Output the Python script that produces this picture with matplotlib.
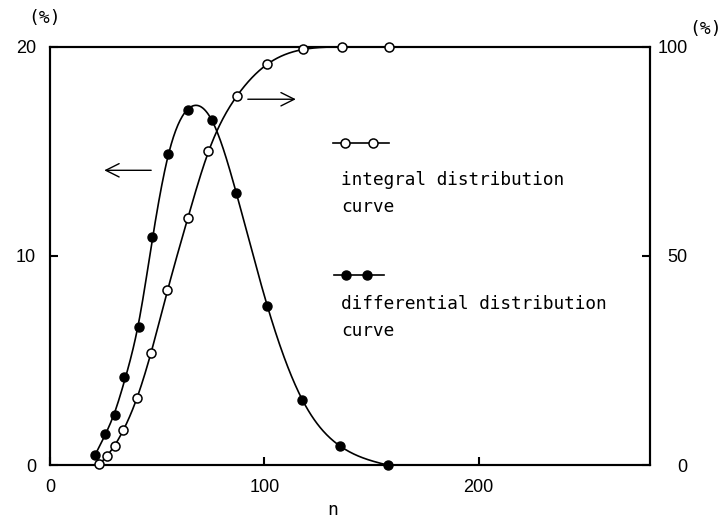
import numpy as np
import matplotlib
matplotlib.use('Agg')
import matplotlib.pyplot as plt

# differential distribution (left axis, %)
diff_n = [21.0, 25.7, 30.4, 34.6, 41.6, 47.7, 55.1, 64.5, 75.7, 86.9, 101.4, 117.8, 135.5, 157.5]
diff_pct = [0.5, 1.5, 2.4, 4.2, 6.6, 10.9, 14.9, 17.0, 16.5, 13.0, 7.6, 3.1, 0.9, 0.0]

# integral distribution (right axis, %)
int_n = [22.9, 26.6, 30.4, 34.1, 40.7, 47.2, 54.7, 64.5, 73.8, 87.4, 101.4, 118.2, 136.4, 158.4]
int_pct = [0.3, 2.2, 4.6, 8.4, 16.0, 26.8, 41.9, 59.1, 75.1, 88.3, 95.9, 99.4, 100.0, 100.0]

left_ticks = [0, 10, 20]
right_ticks = [0, 50, 100]
x_ticks = [0, 100, 200]


def smooth_curve(x, y, lam=0.5, num=400):
    # penalised smoother on a fine grid, only used to draw the fitted line
    x = np.asarray(x, float)
    y = np.asarray(y, float)
    g = np.linspace(x[0], x[-1], num)
    h = g[1] - g[0]
    B = np.zeros((len(x), num))
    for i, xi in enumerate(x):
        j = min(int((xi - g[0]) / h), num - 2)
        t = (xi - g[j]) / h
        B[i, j] = 1 - t
        B[i, j + 1] = t
    D = np.diff(np.eye(num), 2, axis=0)
    f = np.linalg.solve(B.T @ B + lam / h ** 3 * D.T @ D, B.T @ y)
    return g, f


plt.rcParams['font.family'] = 'Liberation Sans'

fig = plt.figure(figsize=(7.22, 5.18), dpi=100)
ax = fig.add_axes([0.0693, 0.1023, 0.831, 0.8070])
ax2 = ax.twinx()

xs, ys = smooth_curve(diff_n, diff_pct, lam=20)
ax.plot(xs, np.clip(ys, 0, None), color='black', lw=1.2)
ax.plot(diff_n, diff_pct, 'o', color='black', ms=6.5, clip_on=False, zorder=5)

xs, ys = smooth_curve(int_n, int_pct, lam=30)
ax2.plot(xs, np.clip(ys, 0, 100), color='black', lw=1.2, clip_on=False)
ax2.plot(int_n, int_pct, 'o', mfc='white', mec='black', mew=1.1, ms=6.5, clip_on=False, zorder=5)

ax.set_xlim(0, 280)
ax.set_ylim(0, 20)
ax2.set_ylim(0, 100)
ax.set_xticks(x_ticks)
ax.set_yticks(left_ticks)
ax2.set_yticks(right_ticks)

for a in (ax, ax2):
    for s in a.spines.values():
        s.set_linewidth(1.5)
ax.tick_params(direction='in', length=6, width=1.5, labelsize=13, pad=10)
ax2.tick_params(direction='in', length=6, width=1.5, labelsize=13)
for lab in ax2.get_yticklabels():
    lab.set_horizontalalignment('right')
ax2.tick_params(axis='y', pad=27)

# arrows pointing to the axis each curve belongs to
ax.annotate('', xy=(24, 14.1), xytext=(48.5, 14.1),
            arrowprops=dict(arrowstyle='->', lw=1.0, mutation_scale=24))
ax.annotate('', xy=(116, 17.5), xytext=(91, 17.5),
            arrowprops=dict(arrowstyle='->', lw=1.0, mutation_scale=24))

# hand-drawn legend
mono = 'DejaVu Sans Mono'
ax.plot([132, 158], [15.4, 15.4], color='black', lw=1.2)
ax.plot([137.5, 150.5], [15.4, 15.4], 'o', mfc='white', mec='black', mew=1.1, ms=6.5)
ax.text(136, 13.0, 'integral distribution\ncurve', family=mono, fontsize=12.8,
        va='center', ha='left', linespacing=1.65)
ax.plot([132.5, 156], [9.1, 9.1], color='black', lw=1.2)
ax.plot([138, 148], [9.1, 9.1], 'o', color='black', ms=6.5)
ax.text(136, 7.05, 'differential distribution\ncurve', family=mono, fontsize=12.8,
        va='center', ha='left', linespacing=1.65)

fig.text(45 / 722, 1 - 18 / 518, '(%)', family=mono, fontsize=13, ha='center', va='center')
fig.text(706 / 722, 1 - 29 / 518, '(%)', family=mono, fontsize=13, ha='center', va='center')
fig.text(333 / 722, 1 - 510 / 518, 'n', family=mono, fontsize=13, ha='center', va='center')

fig.savefig('out.png', dpi=100)
